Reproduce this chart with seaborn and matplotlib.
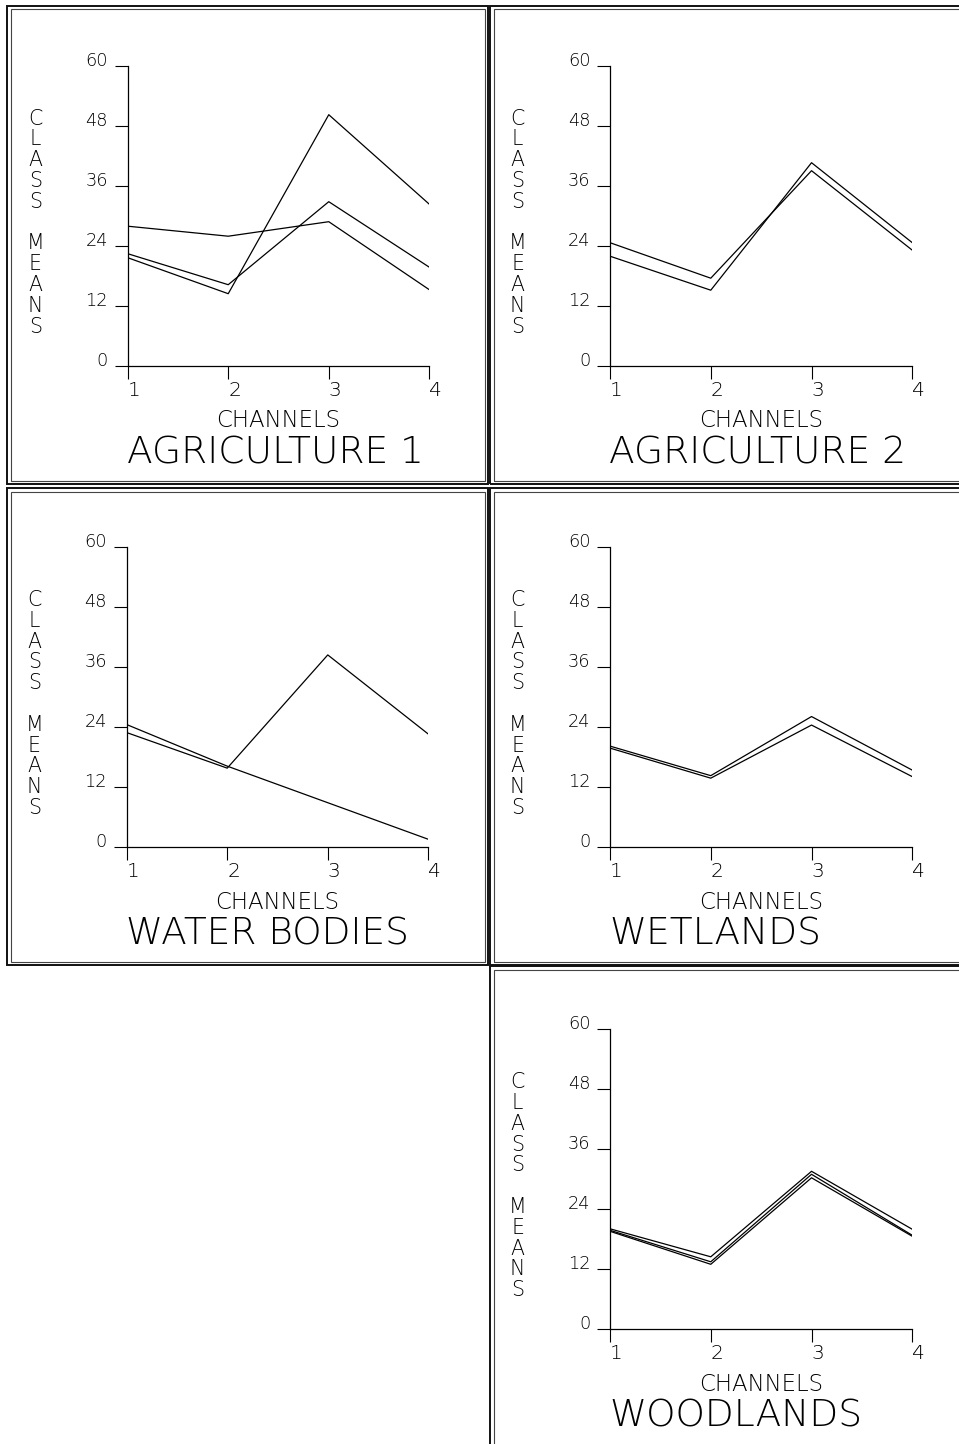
import matplotlib
matplotlib.use("Agg")
import matplotlib.pyplot as plt
from matplotlib.patches import Rectangle
import seaborn as sns
import pandas as pd

# ---------------- data ----------------
channels = [1, 2, 3, 4]

agri1_a = [27.9, 25.9, 28.8, 15.2]
agri1_b = [22.4, 16.2, 32.8, 19.7]
agri1_c = [21.6, 14.4, 50.2, 32.3]

agri2_a = [24.6, 17.5, 39.0, 23.1]
agri2_b = [21.9, 15.1, 40.6, 24.6]

water_a = [24.5, 16.2, 8.9, 1.6]
water_b = [22.9, 15.8, 38.4, 22.6]

wet_a = [20.2, 14.3, 26.1, 15.4]
wet_b = [19.8, 13.8, 24.4, 14.1]

wood_a = [20.1, 14.5, 31.6, 20.0]
wood_b = [19.8, 13.5, 31.0, 18.8]
wood_c = [19.6, 13.0, 30.3, 18.6]

titles = ["AGRICULTURE 1", "AGRICULTURE 2", "WATER BODIES", "WETLANDS", "WOODLANDS"]
y_ticks = [0, 12, 24, 36, 48, 60]
x_label = "CHANNELS"
y_label = "CLASS MEANS"

panels = [
    [agri1_a, agri1_b, agri1_c],
    [agri2_a, agri2_b],
    [water_a, water_b],
    [wet_a, wet_b],
    [wood_a, wood_b, wood_c],
]

# ---------------- layout (pixels) ----------------
W, H = 959, 1444
sns.set_style("white")
plt.rcParams["font.family"] = ["DejaVu Sans"]
plt.rcParams["font.weight"] = "light"
plt.rcParams["text.color"] = "black"
plt.rcParams["xtick.color"] = "black"
plt.rcParams["ytick.color"] = "black"
plt.rcParams["xtick.labelcolor"] = "black"
plt.rcParams["ytick.labelcolor"] = "black"

fig = plt.figure(figsize=(W / 100, H / 100), dpi=100)
fig.patch.set_facecolor("white")

# axes rectangles: left, right, top, bottom in pixels
axes_px = [
    (127.7, 429.3, 65.7, 365.7),
    (610.0, 912.3, 65.7, 365.7),
    (126.7, 428.3, 546.7, 847.3),
    (610.0, 912.3, 546.7, 847.3),
    (610.0, 912.3, 1029.3, 1329.3),
]

# panel frames (outer rectangles) x0, y0, x1, y1 in pixels
frames_px = [
    (7, 6, 488, 484),
    (490, 6, 980, 484),
    (7, 488, 488, 965),
    (490, 488, 980, 965),
    (490, 966, 980, 1470),
]


def px_rect(x0, y0, x1, y1):
    return (x0 / W, 1 - y1 / H), (x1 - x0) / W, (y1 - y0) / H


for (x0, y0, x1, y1) in frames_px:
    xy, w, h = px_rect(x0, y0, x1, y1)
    fig.add_artist(Rectangle(xy, w, h, transform=fig.transFigure, fill=False,
                             lw=1.4, edgecolor="#111111"))
    xy, w, h = px_rect(x0 + 3.5, y0 + 3.5, x1 - 3.5, y1 - 3.5)
    fig.add_artist(Rectangle(xy, w, h, transform=fig.transFigure, fill=False,
                             lw=0.8, edgecolor="#444444"))

for k, ((l, r, t, b), series, title) in enumerate(zip(axes_px, panels, titles)):
    ax = fig.add_axes([l / W, 1 - b / H, (r - l) / W, (b - t) / H])
    ax.set_facecolor("none")
    rows = []
    for s_idx, vals in enumerate(series):
        for c, v in zip(channels, vals):
            rows.append({"channel": c, "mean": v, "series": s_idx})
    df = pd.DataFrame(rows)
    sns.lineplot(data=df, x="channel", y="mean", units="series", estimator=None,
                 color="black", lw=0.9, ax=ax, legend=False)

    ax.set_xlim(1, 4)
    ax.set_ylim(0, 60)
    ax.set_xticks(channels)
    ax.set_xticklabels([str(c) for c in channels])
    ax.set_yticks(y_ticks)
    ax.set_yticklabels([str(v) for v in y_ticks])
    ax.set_xlabel("")
    ax.set_ylabel("")
    for side in ["top", "right"]:
        ax.spines[side].set_visible(False)
    for side in ["left", "bottom"]:
        ax.spines[side].set_linewidth(0.9)
        ax.spines[side].set_color("black")
    ax.tick_params(axis="both", which="major", bottom=True, left=True,
                   direction="out", length=9.4, width=0.8, color="black",
                   labelcolor="black")
    ax.tick_params(axis="y", pad=4.8, labelsize=12.8)
    ax.tick_params(axis="x", pad=1.5, labelsize=14.5)
    for lab in ax.get_yticklabels():
        lab.set_va("baseline")
    for lab in ax.get_xticklabels():
        lab.set_ha("left")

    # stacked vertical y label
    ax.text(-92.5 / (r - l), 0.477, "\n".join(y_label), transform=ax.transAxes,
            ha="center", va="center", fontsize=14.8, linespacing=1.05)

    # x label and panel title
    cx = (l + r) / 2
    fig.text(cx / W, 1 - (b + 61.5) / H, x_label, ha="center", va="baseline",
             fontsize=16.5)
    fig.text((l - 1) / W, 1 - (b + 97.5) / H, title, ha="left", va="baseline",
             fontsize=27)

fig.savefig("out.png", dpi=100, facecolor="white")
